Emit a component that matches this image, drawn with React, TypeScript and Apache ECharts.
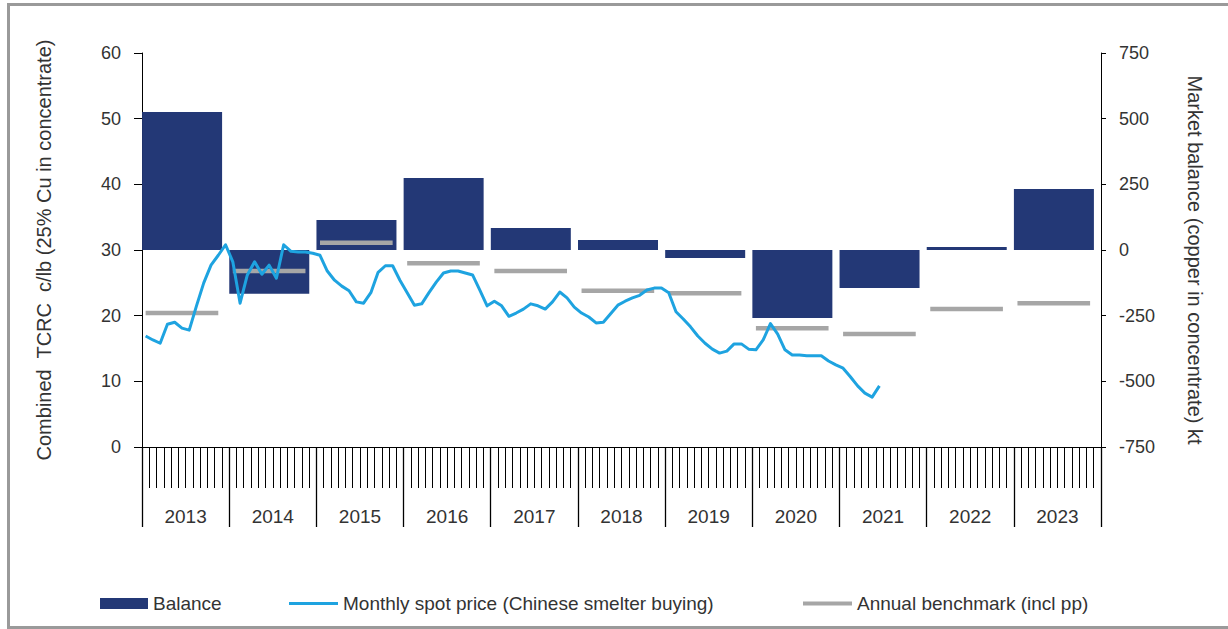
import React, { useEffect, useRef } from "react";
import * as echarts from "echarts";

const years = ["2013", "2014", "2015", "2016", "2017", "2018", "2019", "2020", "2021", "2022", "2023"];
const monthNames = ["Jan", "Feb", "Mar", "Apr", "May", "Jun", "Jul", "Aug", "Sep", "Oct", "Nov", "Dec"];

// Market balance, kt (right axis)
const balance = [525, -167, 114, 274, 84, 38, -30, -259, -145, 11, 232];

// Annual benchmark incl. price participation, c/lb (left axis)
const benchmark = [20.4, 26.8, 31.1, 28.0, 26.8, 23.8, 23.4, 18.1, 17.2, 21.0, 21.9];

// Monthly spot TC/RC, c/lb, Jan 2013 onward (left axis)
const spotPrice = [
  16.9, 16.3, 15.8, 18.7, 19.0, 18.1, 17.8, 21.5, 25.0, 27.7, 29.2, 30.8,
  28.2, 21.9, 26.2, 28.2, 26.3, 27.7, 25.7, 30.8, 29.8, 29.7, 29.7, 29.5,
  29.2, 26.8, 25.4, 24.5, 23.8, 22.1, 21.9, 23.5, 26.6, 27.6, 27.6, 25.4,
  23.5, 21.6, 21.8, 23.5, 25.1, 26.5, 26.8, 26.8, 26.5, 26.2, 23.9, 21.5,
  22.2, 21.5, 19.9, 20.4, 21.0, 21.8, 21.5, 21.0, 22.1, 23.6, 22.7, 21.3,
  20.4, 19.8, 18.9, 19.0, 20.3, 21.6, 22.2, 22.7, 23.1, 23.9, 24.2, 24.2,
  23.5, 20.6, 19.5, 18.3, 16.9, 15.8, 14.9, 14.3, 14.6, 15.7, 15.7, 14.9,
  14.8, 16.3, 18.8, 17.2, 14.8, 14.0, 14.0, 13.9, 13.9, 13.9, 13.1, 12.5,
  12.0, 10.7, 9.3, 8.2, 7.6, 9.3,
];

const FONT = "'Liberation Sans', Arial, sans-serif";
const TEXT = "#333333";
const BAR = "#233876";
const SPOT = "#1ea3e0";
const BENCH = "#a6a6a6";

export default function App() {
  const ref = useRef<HTMLDivElement>(null);

  useEffect(() => {
    if (!ref.current) return;
    const chart = echarts.init(ref.current, null, { renderer: "svg" });

    const months: string[] = [];
    years.forEach((y) => monthNames.forEach((m) => months.push(`${m} ${y}`)));

    const spotData: (number | null)[] = months.map((_, i) => (i < spotPrice.length ? spotPrice[i] : null));
    const benchData: (number | null)[] = [];
    benchmark.forEach((v) => {
      for (let m = 0; m < 12; m++) benchData.push(m < 11 ? v : null);
    });

    const legendText = { fontSize: 19, color: TEXT, fontFamily: FONT };

    const option: any = {
      animation: false,
      backgroundColor: "#ffffff",
      textStyle: { fontFamily: FONT },
      graphic: [
        {
          type: "rect",
          shape: { x: 8.5, y: 4.5, width: 1240, height: 623 },
          style: { fill: "none", stroke: "#9a9a9a", lineWidth: 3 },
          silent: true,
        },
      ],
      grid: { left: 142, right: 127, top: 53, bottom: 182, containLabel: false },
      legend: [
        {
          data: [{ name: "Balance", icon: "rect", itemStyle: { color: BAR } }],
          left: 100,
          top: 594,
          padding: 0,
          itemWidth: 48,
          itemHeight: 11,
          itemGap: 5,
          textStyle: legendText,
        },
        {
          data: [{ name: "Monthly spot price (Chinese smelter buying)", icon: "rect", itemStyle: { color: SPOT } }],
          left: 289,
          top: 594,
          padding: 0,
          itemWidth: 49,
          itemHeight: 3,
          textStyle: legendText,
        },
        {
          data: [{ name: "Annual benchmark (incl pp)", icon: "rect", itemStyle: { color: BENCH } }],
          left: 803,
          top: 594,
          padding: 0,
          itemWidth: 49,
          itemHeight: 4,
          textStyle: legendText,
        },
      ],
      xAxis: [
        {
          type: "category",
          data: months,
          position: "bottom",
          boundaryGap: true,
          axisLine: { show: true, onZero: false, lineStyle: { color: "#000", width: 1 } },
          axisTick: { show: true, interval: 0, length: 41, lineStyle: { color: "#000", width: 1 } },
          axisLabel: { show: false },
          splitLine: { show: false },
        },
        {
          type: "category",
          data: years,
          position: "bottom",
          boundaryGap: true,
          axisLine: { show: false, onZero: false },
          axisTick: { show: true, interval: 0, length: 80, lineStyle: { color: "#000", width: 1.3 } },
          axisLabel: { show: true, interval: 0, margin: 60, fontSize: 19, color: TEXT, fontFamily: FONT },
          splitLine: { show: false },
        },
      ],
      yAxis: [
        {
          type: "value",
          position: "left",
          min: 0,
          max: 60,
          interval: 10,
          name: "Combined  TCRC  c/lb (25% Cu in concentrate)",
          nameLocation: "middle",
          nameRotate: 90,
          nameGap: 88,
          nameTextStyle: { fontSize: 20, color: TEXT, fontFamily: FONT },
          axisLine: { show: true, lineStyle: { color: "#000", width: 1 } },
          axisTick: { show: true, length: 8, lineStyle: { color: "#000" } },
          axisLabel: { margin: 21, fontSize: 18, color: TEXT, fontFamily: FONT },
          splitLine: { show: false },
        },
        {
          type: "value",
          position: "right",
          min: -750,
          max: 750,
          interval: 250,
          name: "Market balance (copper in concentrate) kt",
          nameLocation: "middle",
          nameRotate: -90,
          nameGap: 84,
          nameTextStyle: { fontSize: 20, color: TEXT, fontFamily: FONT, padding: [0, 0, 0, 20] },
          axisLine: { show: true, lineStyle: { color: "#000", width: 1 } },
          axisTick: { show: true, length: 5, lineStyle: { color: "#000" } },
          axisLabel: { margin: 18, fontSize: 18, color: TEXT, fontFamily: FONT },
          splitLine: { show: false },
        },
      ],
      series: [
        {
          name: "Balance",
          type: "bar",
          xAxisIndex: 1,
          yAxisIndex: 1,
          data: balance,
          barWidth: 80,
          barGap: "0%",
          itemStyle: { color: BAR },
          z: 1,
        },
        {
          name: "_spacer",
          type: "bar",
          xAxisIndex: 1,
          yAxisIndex: 1,
          data: balance.map(() => null),
          barWidth: 7,
          itemStyle: { color: "rgba(0,0,0,0)" },
          silent: true,
          z: 0,
        },
        {
          name: "Annual benchmark (incl pp)",
          type: "line",
          xAxisIndex: 0,
          yAxisIndex: 0,
          data: benchData,
          symbol: "none",
          connectNulls: false,
          lineStyle: { color: BENCH, width: 4.5, cap: "butt" },
          itemStyle: { color: BENCH },
          z: 3,
        },
        {
          name: "Monthly spot price (Chinese smelter buying)",
          type: "line",
          xAxisIndex: 0,
          yAxisIndex: 0,
          data: spotData,
          symbol: "none",
          connectNulls: false,
          lineStyle: { color: SPOT, width: 3, join: "round" },
          itemStyle: { color: SPOT },
          z: 4,
        },
      ],
    };

    chart.setOption(option);
    return () => chart.dispose();
  }, []);

  return (
    <div
      ref={ref}
      style={{ position: "fixed", left: 0, top: 0, width: 1228, height: 629, background: "#fff" }}
    />
  );
}
